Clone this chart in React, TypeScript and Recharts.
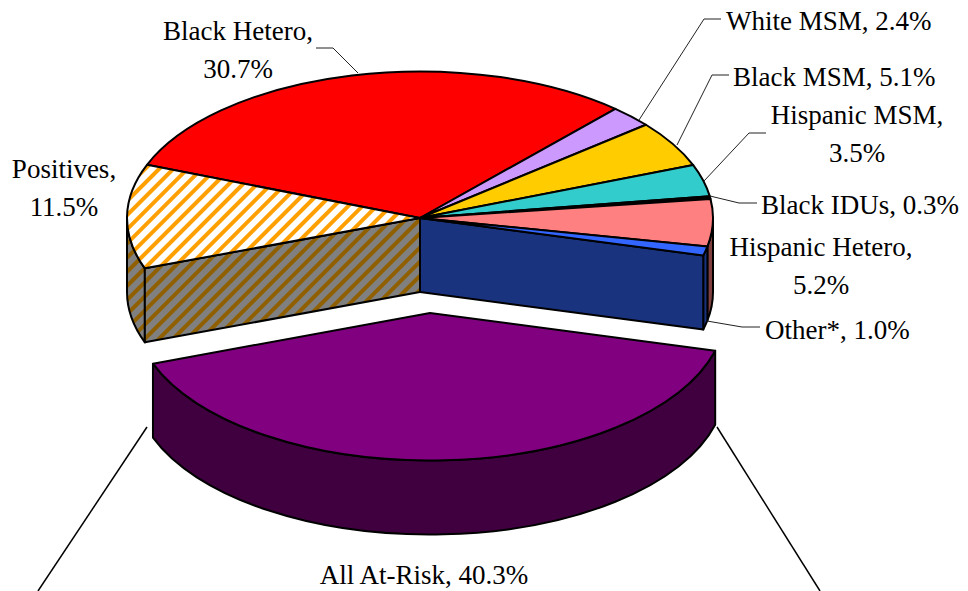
import { PieChart, Pie } from "recharts";

// slices, clockwise from the Black Hetero start edge
const sliceNames = [
  "Black Hetero",
  "White MSM",
  "Black MSM",
  "Hispanic MSM",
  "Black IDUs",
  "Hispanic Hetero",
  "Other*",
  "All At-Risk",
  "Positives",
];
const sliceValues = [30.7, 2.4, 5.1, 3.5, 0.3, 5.2, 1.0, 40.3, 11.5];

const topFills = ["#ff0000", "#cc99ff", "#ffcc00", "#33cccc", "#000000", "#ff8080", "#3366ff", "#800080", "url(#hatchTop)"];
const wallFills = ["#800000", "#664d80", "#806600", "#1a6666", "#000000", "#804040", "#1a337f", "#400040", "url(#hatchWall)"];

const data = sliceNames.map((name, i) => ({ name, value: sliceValues[i] }));

const CX = 420;
const CY = 218;
const RX = 293;
const SQUASH = 0.5;
const DEPTH = 74;
const EXPLODED = "All At-Risk";
const EXPLODE_X = 10;
const EXPLODE_Y = 95;
const EXPLODE_GROW = 2;
const RAD = Math.PI / 180;

interface LabelSpot {
  lines: string[];
  x: number;
  y: number;
  anchor: "start" | "middle";
  leader?: [number, number][];
}

const labelSpots: Record<string, LabelSpot> = {
  "Black Hetero": { lines: ["Black Hetero,", "%"], x: 238, y: 40, anchor: "middle", leader: [[316, 48], [333, 48], [358, 73]] },
  "White MSM": { lines: ["White MSM, %"], x: 726, y: 30, anchor: "start", leader: [[721, 19], [704, 19], [639, 120]] },
  "Black MSM": { lines: ["Black MSM, %"], x: 733, y: 86, anchor: "start", leader: [[729, 75], [712, 75], [677, 145]] },
  "Hispanic MSM": { lines: ["Hispanic MSM,", "%"], x: 857, y: 124, anchor: "middle", leader: [[766, 133], [749, 133], [704, 181]] },
  "Black IDUs": { lines: ["Black IDUs, %"], x: 761, y: 214, anchor: "start", leader: [[757, 203], [739, 203], [710, 196]] },
  "Hispanic Hetero": { lines: ["Hispanic Hetero,", "%"], x: 821, y: 256, anchor: "middle" },
  "Other*": { lines: ["Other*, %"], x: 765, y: 339, anchor: "start", leader: [[760, 327], [742, 327], [707, 321]] },
  "All At-Risk": { lines: ["All At-Risk, %"], x: 424, y: 584, anchor: "middle" },
  Positives: { lines: ["Positives,", "%"], x: 64, y: 178, anchor: "middle" },
};

// the two long lines running off the bottom of the picture
const zoomLines = [
  [147, 427, 38, 591],
  [717, 427, 820, 591],
];

const ptOnRim = (cx: number, cy: number, r: number, deg: number) => ({
  x: cx + r * Math.cos(deg * RAD),
  y: cy - r * SQUASH * Math.sin(deg * RAD),
});

const arcTo = (r: number, x: number, y: number, large: boolean, sweep: number) =>
  `A ${r} ${r * SQUASH} 0 ${large ? 1 : 0} ${sweep} ${x} ${y}`;

const explodeOf = (name: string) => (name === EXPLODED ? [EXPLODE_X, EXPLODE_Y, EXPLODE_GROW] : [0, 0, 0]);

// flat top face of a slice
const TopFace = (props: any) => {
  const { cx, cy, outerRadius, startAngle, endAngle, name, index } = props;
  const [dx, dy, grow] = explodeOf(name);
  const r = outerRadius + grow;
  const x0 = cx + dx;
  const y0 = cy + dy;
  const a = ptOnRim(x0, y0, r, startAngle);
  const b = ptOnRim(x0, y0, r, endAngle);
  const d = `M ${x0} ${y0} L ${a.x} ${a.y} ${arcTo(r, b.x, b.y, startAngle - endAngle > 180, 1)} Z`;
  return <path d={d} fill={topFills[index]} stroke="#000" strokeWidth={2} strokeLinejoin="round" />;
};

// rim wall plus the cut walls left open by the exploded slice
const Walls = (props: any) => {
  const { cx, cy, outerRadius, startAngle, endAngle, name, index } = props;
  const [dx, dy, grow] = explodeOf(name);
  const r = outerRadius + grow;
  const x0 = cx + dx;
  const y0 = cy + dy;
  const parts: any[] = [];
  const names = sliceNames;
  const fill = wallFills[index];

  const cutWall = (deg: number, key: string) => {
    const p = ptOnRim(x0, y0, r, deg);
    parts.push(
      <path
        key={key}
        d={`M ${x0} ${y0} L ${p.x} ${p.y} L ${p.x} ${p.y + DEPTH} L ${x0} ${y0 + DEPTH} Z`}
        fill={fill}
        stroke="#000"
        strokeWidth={2}
        strokeLinejoin="round"
      />,
    );
  };

  // only the lower half of the rim faces the viewer
  let from = startAngle;
  let to = endAngle;
  if (from > 0 && to < 0) from = 0;
  if (from > -180 && to < -180) to = -180;
  if (from <= 0 && to >= -180 && from > to) {
    const a = ptOnRim(x0, y0, r, from);
    const b = ptOnRim(x0, y0, r, to);
    parts.push(
      <path
        key="rim"
        d={`M ${a.x} ${a.y} ${arcTo(r, b.x, b.y, false, 1)} L ${b.x} ${b.y + DEPTH} ${arcTo(r, a.x, a.y + DEPTH, false, 0)} Z`}
        fill={fill}
        stroke="#000"
        strokeWidth={2}
        strokeLinejoin="round"
      />,
    );
  }
  if (names[index + 1] === EXPLODED) cutWall(endAngle, "cut-end");
  if (names[index - 1] === EXPLODED) cutWall(startAngle, "cut-start");
  return <g>{parts}</g>;
};

const SliceLabel = (props: any) => {
  const { name, value } = props;
  const spot = labelSpots[name];
  const pct = `${Number(value).toFixed(1)}%`;
  return (
    <g>
      {spot.leader && (
        <polyline
          points={spot.leader.map((p) => p.join(",")).join(" ")}
          fill="none"
          stroke="#222"
          strokeWidth={1}
        />
      )}
      <text
        textAnchor={spot.anchor}
        fontFamily="'Liberation Serif', serif"
        fontSize={27}
        fill="#000"
        stroke="none"
      >
        {spot.lines.map((line, i) => (
          <tspan key={i} x={spot.x} y={spot.y + i * 37.5}>
            {line.replace("%", pct)}
          </tspan>
        ))}
      </text>
      {name === EXPLODED &&
        zoomLines.map((l, i) => (
          <line key={i} x1={l[0]} y1={l[1]} x2={l[2]} y2={l[3]} stroke="#000" strokeWidth={1.5} />
        ))}
    </g>
  );
};

export default function App() {
  return (
    <div style={{ position: "absolute", left: 0, top: 0, width: 968, height: 591, background: "#fff" }}>
      <PieChart width={968} height={591} margin={{ top: 0, right: 0, bottom: 0, left: 0 }}>
        <defs>
          <pattern id="hatchTop" width={10} height={10} patternUnits="userSpaceOnUse" patternTransform="rotate(45)">
            <rect width={10} height={10} fill="#ffffff" />
            <rect width={4} height={10} fill="#ffa000" />
          </pattern>
          <pattern id="hatchWall" width={10} height={10} patternUnits="userSpaceOnUse" patternTransform="rotate(45)">
            <rect width={10} height={10} fill="#808080" />
            <rect width={4} height={10} fill="#8f5f00" />
          </pattern>
        </defs>
        <Pie
          data={data}
          dataKey="value"
          nameKey="name"
          cx={CX}
          cy={CY}
          innerRadius={0}
          outerRadius={RX}
          startAngle={158.7}
          endAngle={-201.3}
          paddingAngle={0}
          isAnimationActive={false}
          shape={Walls}
          label={false}
          labelLine={false}
        />
        <Pie
          data={data}
          dataKey="value"
          nameKey="name"
          cx={CX}
          cy={CY}
          innerRadius={0}
          outerRadius={RX}
          startAngle={158.7}
          endAngle={-201.3}
          paddingAngle={0}
          isAnimationActive={false}
          shape={TopFace}
          label={SliceLabel}
          labelLine={false}
        />
      </PieChart>
    </div>
  );
}
